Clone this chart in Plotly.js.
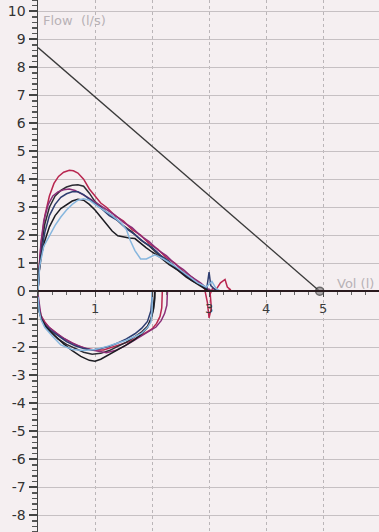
<!DOCTYPE html>
<html>
<head>
<meta charset="utf-8">
<script src="https://cdn.plot.ly/plotly-3.0.1.min.js"></script>
<style>html,body{margin:0;padding:0;background:#f5eff1;}#chart{width:379px;height:532px;}</style>
</head>
<body>
<div id="chart"></div>
<script>
// ---- data ----
const yTickVals = [10, 9, 8, 7, 6, 5, 4, 3, 2, 1, 0, -1, -2, -3, -4, -5, -6, -7, -8];
const yTickLabels = ["10", "9", "8", "7", "6", "5", "4", "3", "2", "1", "0", "-1", "-2", "-3", "-4", "-5", "-6", "-7", "-8"];
const xTickVals = [1, 2, 3, 4, 5];
const xTickLabels = ["1", "", "3", "4", "5"];

// predicted line (PEF to FVC)
const predX = [0, 4.94];
const predY = [8.7, 0];

// trial 1 (crimson)
const t1ExpX = [0, 0.02, 0.06, 0.12, 0.2, 0.28, 0.36, 0.45, 0.55, 0.62, 0.7, 0.8, 0.9, 1.0, 1.1, 1.2, 1.35, 1.5, 1.65, 1.8, 1.95, 2.1, 2.25, 2.4, 2.55, 2.7, 2.82, 2.92, 2.97, 3.0, 3.04, 3.02, 3.06, 3.12, 3.2, 3.28, 3.32, 3.38, 3.3];
const t1ExpY = [0, 0.9, 1.8, 2.7, 3.4, 3.85, 4.1, 4.25, 4.32, 4.3, 4.22, 4.0, 3.65, 3.4, 3.15, 3.0, 2.7, 2.5, 2.2, 2.0, 1.7, 1.5, 1.2, 1.0, 0.7, 0.5, 0.28, 0.1, -0.4, -0.95, -0.6, -0.1, 0.1, 0.05, 0.3, 0.42, 0.15, 0.05, 0];
const t1InsX = [0, 0.02, 0.06, 0.12, 0.2, 0.3, 0.42, 0.55, 0.7, 0.85, 1.0, 1.15, 1.3, 1.45, 1.6, 1.75, 1.88, 2.0, 2.08, 2.14, 2.17, 2.18, 2.18];
const t1InsY = [-0.2, -0.6, -0.9, -1.1, -1.3, -1.45, -1.65, -1.8, -1.95, -2.05, -2.1, -2.1, -2.0, -1.92, -1.8, -1.65, -1.5, -1.35, -1.15, -0.9, -0.6, -0.3, 0];

// trial 2 (black, high)
const t2ExpX = [0, 0.02, 0.06, 0.12, 0.2, 0.3, 0.4, 0.5, 0.6, 0.7, 0.8, 0.9, 1.0, 1.1, 1.2, 1.35, 1.5, 1.65, 1.8, 1.95, 2.1, 2.25, 2.4, 2.55, 2.7, 2.85, 2.95, 3.05];
const t2ExpY = [0, 0.8, 1.6, 2.4, 3.0, 3.4, 3.6, 3.72, 3.78, 3.8, 3.75, 3.5, 3.2, 3.02, 2.82, 2.62, 2.33, 2.12, 1.83, 1.62, 1.33, 1.12, 0.83, 0.62, 0.38, 0.22, 0.08, 0];
const t2InsX = [0, 0.02, 0.06, 0.12, 0.22, 0.35, 0.5, 0.65, 0.8, 0.95, 1.1, 1.25, 1.4, 1.55, 1.7, 1.82, 1.92, 1.99, 2.03, 2.05, 2.05];
const t2InsY = [-0.3, -0.7, -1.0, -1.25, -1.45, -1.7, -1.9, -2.05, -2.18, -2.25, -2.22, -2.12, -1.98, -1.82, -1.62, -1.45, -1.25, -0.95, -0.6, -0.25, 0];

// trial 3 (magenta)
const t3ExpX = [0, 0.02, 0.05, 0.1, 0.18, 0.26, 0.35, 0.45, 0.55, 0.65, 0.75, 0.85, 0.95, 1.05, 1.2, 1.35, 1.5, 1.65, 1.8, 1.95, 2.1, 2.25, 2.4, 2.55, 2.7, 2.85, 2.95, 3.05];
const t3ExpY = [0, 0.9, 1.7, 2.5, 3.1, 3.4, 3.55, 3.62, 3.65, 3.6, 3.5, 3.38, 3.25, 3.12, 2.92, 2.72, 2.46, 2.27, 1.98, 1.77, 1.48, 1.27, 0.98, 0.77, 0.5, 0.3, 0.12, 0];
const t3InsX = [0, 0.02, 0.05, 0.1, 0.2, 0.32, 0.45, 0.6, 0.75, 0.9, 1.05, 1.2, 1.35, 1.5, 1.65, 1.8, 1.95, 2.07, 2.16, 2.22, 2.26, 2.27, 2.27];
const t3InsY = [-0.1, -0.5, -0.85, -1.1, -1.3, -1.5, -1.68, -1.85, -1.98, -2.08, -2.15, -2.2, -2.12, -1.98, -1.8, -1.62, -1.45, -1.28, -1.05, -0.8, -0.5, -0.2, 0];

// trial 4 (navy)
const t4ExpX = [0, 0.02, 0.06, 0.12, 0.2, 0.3, 0.4, 0.5, 0.6, 0.7, 0.8, 0.9, 1.0, 1.1, 1.25, 1.4, 1.55, 1.7, 1.85, 2.0, 2.15, 2.3, 2.45, 2.6, 2.75, 2.88, 2.96, 3.0, 3.03, 3.08, 3.15];
const t4ExpY = [0, 0.7, 1.4, 2.1, 2.7, 3.1, 3.35, 3.48, 3.55, 3.55, 3.45, 3.3, 3.12, 2.97, 2.7, 2.52, 2.23, 2.02, 1.76, 1.57, 1.28, 1.07, 0.78, 0.57, 0.33, 0.2, 0.1, 0.68, 0.2, 0.1, 0];
const t4InsX = [0, 0.02, 0.06, 0.12, 0.22, 0.35, 0.5, 0.65, 0.8, 0.95, 1.1, 1.25, 1.4, 1.55, 1.7, 1.82, 1.92, 1.98, 2.0, 2.01];
const t4InsY = [-0.2, -0.7, -1.0, -1.2, -1.4, -1.6, -1.8, -1.95, -2.05, -2.1, -2.05, -1.97, -1.85, -1.7, -1.52, -1.32, -1.08, -0.7, -0.3, 0];

// trial 5 (black, low)
const t5ExpX = [0, 0.02, 0.06, 0.12, 0.2, 0.3, 0.4, 0.5, 0.6, 0.7, 0.8, 0.9, 1.0, 1.1, 1.2, 1.3, 1.4, 1.5, 1.6, 1.7, 1.8, 1.9, 2.0, 2.15, 2.3, 2.45, 2.6, 2.75, 2.9, 3.0];
const t5ExpY = [0, 0.7, 1.3, 1.8, 2.3, 2.7, 2.95, 3.1, 3.22, 3.28, 3.25, 3.1, 2.9, 2.65, 2.4, 2.15, 1.98, 1.93, 1.9, 1.88, 1.7, 1.55, 1.4, 1.2, 0.95, 0.75, 0.5, 0.3, 0.12, 0];
const t5InsX = [0, 0.02, 0.06, 0.15, 0.3, 0.45, 0.6, 0.75, 0.9, 1.0, 1.1, 1.25, 1.4, 1.55, 1.7, 1.82, 1.92, 1.98, 2.02, 2.04, 2.05];
const t5InsY = [-0.3, -0.7, -1.0, -1.3, -1.6, -1.88, -2.12, -2.33, -2.47, -2.5, -2.43, -2.27, -2.1, -1.92, -1.72, -1.52, -1.3, -1.0, -0.65, -0.3, 0];

// trial 6 (light blue)
const t6ExpX = [0, 0.03, 0.1, 0.2, 0.3, 0.4, 0.5, 0.6, 0.7, 0.8, 0.9, 1.0, 1.15, 1.3, 1.45, 1.55, 1.62, 1.7, 1.8, 1.9, 2.05, 2.2, 2.4, 2.6, 2.8, 2.95, 3.05, 3.12, 3.2];
const t6ExpY = [0, 0.9, 1.6, 2.0, 2.35, 2.65, 2.9, 3.1, 3.25, 3.3, 3.25, 3.1, 2.9, 2.7, 2.45, 2.2, 1.8, 1.45, 1.15, 1.15, 1.3, 1.15, 0.9, 0.6, 0.3, 0.15, 0.35, 0.1, 0];
const t6InsX = [0, 0.02, 0.05, 0.12, 0.25, 0.4, 0.6, 0.8, 1.0, 1.2, 1.4, 1.55, 1.7, 1.82, 1.92, 1.98, 2.0, 2.0, 2.0];
const t6InsY = [-0.2, -0.7, -1.0, -1.3, -1.6, -1.92, -2.08, -2.12, -2.08, -1.98, -1.85, -1.75, -1.62, -1.5, -1.3, -1.1, -0.7, -0.3, 0];

const trialColors = ["#b8264f", "#2c2c34", "#8a2e78", "#2e3d70", "#1c1c22", "#86b6de"];

// ---- build traces ----
const trials = [
  [t1ExpX, t1ExpY, t1InsX, t1InsY],
  [t2ExpX, t2ExpY, t2InsX, t2InsY],
  [t3ExpX, t3ExpY, t3InsX, t3InsY],
  [t4ExpX, t4ExpY, t4InsX, t4InsY],
  [t5ExpX, t5ExpY, t5InsX, t5InsY],
  [t6ExpX, t6ExpY, t6InsX, t6InsY]
];
const traces = [];
trials.forEach(function (t, i) {
  traces.push({
    x: t[0].concat([null]).concat(t[2]),
    y: t[1].concat([null]).concat(t[3]),
    mode: 'lines', type: 'scatter', hoverinfo: 'skip',
    line: {color: trialColors[i], width: 1.5},
    connectgaps: false
  });
});
traces.push({
  x: predX, y: predY, mode: 'lines+markers', type: 'scatter', hoverinfo: 'skip',
  line: {color: '#3a3a3a', width: 1.3},
  marker: {size: [0, 8], color: '#8a8688', line: {color: '#333', width: 1.5}}
});

const layout = {
  width: 379, height: 532,
  margin: {l: 38, r: 0, t: 0, b: 0},
  paper_bgcolor: '#f5eff1', plot_bgcolor: '#f5eff1',
  showlegend: false,
  font: {family: 'DejaVu Sans, Liberation Sans, sans-serif', color: '#333'},
  xaxis: {
    range: [0, 5.98], domain: [0, 1],
    anchor: 'free', position: 8.6 / 19.0,
    tickvals: xTickVals, ticktext: xTickLabels,
    ticks: 'outside', ticklen: 5, tickwidth: 1, tickcolor: '#444',
    tickfont: {size: 13, color: '#3a3a3a'},
    minor: {dtick: 0.25, ticks: 'outside', ticklen: 3, tickcolor: '#666', showgrid: false},
    showline: true, linecolor: '#2a1a1e', linewidth: 2,
    showgrid: true, gridcolor: '#bab5b8', gridwidth: 1, griddash: 'dot',
    zeroline: false
  },
  yaxis: {
    range: [-8.6, 10.4], domain: [0, 1],
    anchor: 'x', side: 'left',
    tickvals: yTickVals, ticktext: yTickLabels,
    ticks: 'outside', ticklen: 8, tickwidth: 1.5, tickcolor: '#444',
    tickfont: {size: 14, color: '#333'},
    minor: {dtick: 0.2, ticks: 'outside', ticklen: 5, tickcolor: '#555', showgrid: false},
    showline: true, linecolor: '#444', linewidth: 1.5,
    showgrid: true, gridcolor: '#c6c0c3', gridwidth: 1,
    zeroline: false
  },
  annotations: [
    {text: 'Flow  (l/s)', xref: 'paper', yref: 'paper', x: 0.01, y: 1 - 20 / 532, xanchor: 'left', yanchor: 'middle',
     showarrow: false, font: {size: 13, color: '#b8b2b6'}},
    {text: 'Vol (l)', xref: 'paper', yref: 'paper', x: (335 - 38) / 341, y: 1 - 283 / 532, xanchor: 'left', yanchor: 'middle',
     showarrow: false, font: {size: 13, color: '#b8b2b6'}}
  ]
};

Plotly.newPlot('chart', traces, layout, {staticPlot: true, displayModeBar: false});
</script>
</body>
</html>
